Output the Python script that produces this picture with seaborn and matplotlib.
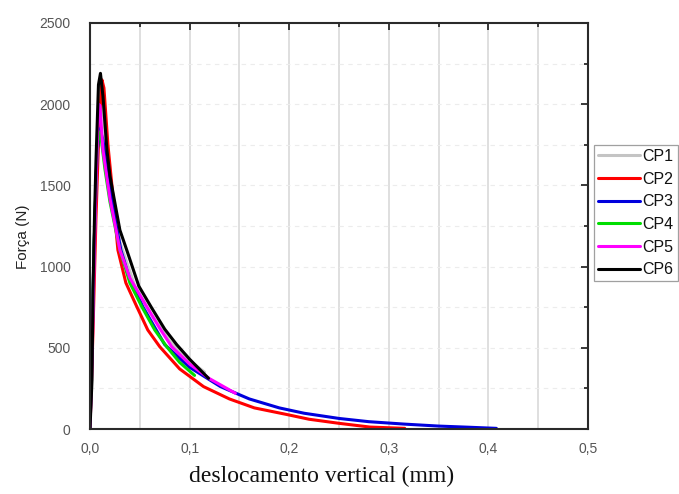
import numpy as np
import pandas as pd
import matplotlib
matplotlib.use("Agg")
import matplotlib.pyplot as plt
from matplotlib.ticker import MultipleLocator, FuncFormatter, NullFormatter
from matplotlib.lines import Line2D
import seaborn as sns

# ---- data ----
cp1_x = [0.0, 0.002, 0.004, 0.007, 0.009, 0.011, 0.014, 0.02, 0.03, 0.045, 0.06, 0.08, 0.10, 0.115]
cp1_y = [0, 500, 1100, 1700, 2000, 2100, 1900, 1500, 1150, 880, 720, 540, 420, 350]

cp2_x = [0.0, 0.003, 0.006, 0.009, 0.012, 0.014, 0.018, 0.022, 0.028, 0.036, 0.047, 0.058, 0.070,
         0.09, 0.114, 0.14, 0.165, 0.197, 0.22, 0.25, 0.281, 0.316]
cp2_y = [0, 600, 1300, 1850, 2150, 2100, 1750, 1500, 1102, 900, 753, 610, 507,
         370, 261, 185, 130, 90, 60, 35, 12, 4]

cp3_x = [0.0, 0.002, 0.004, 0.007, 0.010, 0.013, 0.018, 0.025, 0.031, 0.04, 0.053, 0.075, 0.10,
         0.131, 0.16, 0.19, 0.215, 0.25, 0.28, 0.316, 0.35, 0.38, 0.408]
cp3_y = [0, 500, 1100, 1700, 1850, 1780, 1550, 1300, 1102, 920, 753, 520, 380,
         261, 185, 130, 97, 65, 45, 30, 18, 11, 4]

cp4_x = [0.0, 0.002, 0.004, 0.007, 0.009, 0.011, 0.015, 0.02, 0.03, 0.04, 0.052, 0.065, 0.077,
         0.09, 0.105]
cp4_y = [0, 500, 1100, 1700, 1830, 1800, 1600, 1400, 1102, 900, 753, 610, 507, 410, 330]

cp5_x = [0.0, 0.002, 0.004, 0.006, 0.0087, 0.010, 0.013, 0.02, 0.03, 0.04, 0.057, 0.07, 0.082,
         0.10, 0.12, 0.146]
cp5_y = [0, 400, 1000, 1500, 2000, 1990, 1718, 1420, 1102, 930, 753, 620, 507, 400, 310, 220]

cp6_x = [0.0, 0.002, 0.003, 0.0045, 0.006, 0.0085, 0.0105, 0.013, 0.017, 0.02, 0.03, 0.037,
         0.049, 0.062, 0.075, 0.087, 0.10, 0.119]
cp6_y = [0, 300, 850, 1300, 1650, 2120, 2190, 2050, 1718, 1560, 1225, 1100,
         880, 745, 615, 520, 430, 312]

series = ["CP1", "CP2", "CP3", "CP4", "CP5", "CP6"]
xs = [cp1_x, cp2_x, cp3_x, cp4_x, cp5_x, cp6_x]
ys = [cp1_y, cp2_y, cp3_y, cp4_y, cp5_y, cp6_y]
colors = ["#c4c4c4", "#ff0000", "#0000dd", "#00dd00", "#ff00ff", "#000000"]

rows = []
for name, x, y in zip(series, xs, ys):
    for a, b in zip(x, y):
        rows.append({"serie": name, "x": a, "y": b})
df = pd.DataFrame(rows)

sns.set_theme(style="white")
plt.rcParams["font.family"] = ["Liberation Sans", "DejaVu Sans"]

fig = plt.figure(figsize=(6.79, 4.94), dpi=100)
ax = fig.add_axes([90 / 679, 1 - 429 / 494, (588 - 90) / 679, (429 - 23) / 494])

ax.set_xlim(0, 0.5)
ax.set_ylim(0, 2500)
for gx in np.arange(0.05, 0.5, 0.05):
    ax.axvline(gx, color="#d9d9d9", lw=1.2, zorder=0)
for gy in np.arange(250, 2500, 250):
    ax.axhline(gy, color="#ececec", lw=0.8, ls=(0, (4, 4)), zorder=0)

sns.lineplot(data=df, x="x", y="y", hue="serie", palette=dict(zip(series, colors)),
             hue_order=series, sort=False, estimator=None, units="serie",
             lw=2.2, ax=ax, legend=False)

for s in ax.spines.values():
    s.set_color("#2a2a2a")
    s.set_linewidth(1.5)
ax.xaxis.set_major_locator(MultipleLocator(0.1))
ax.xaxis.set_minor_locator(MultipleLocator(0.05))
ax.yaxis.set_major_locator(MultipleLocator(500))
ax.yaxis.set_minor_locator(MultipleLocator(250))
ax.xaxis.set_major_formatter(FuncFormatter(lambda v, p: f"{v:.1f}".replace(".", ",")))
ax.yaxis.set_major_formatter(FuncFormatter(lambda v, p: f"{int(round(v))}"))
ax.tick_params(which="both", color="#2a2a2a", labelsize=10, labelcolor="#555555")
ax.tick_params(axis="y", which="major", direction="out", length=6, width=1.3, pad=8)
ax.tick_params(axis="y", which="minor", direction="out", length=3.5, width=1.3)
ax.tick_params(axis="x", which="major", direction="inout", length=8, width=1.3, pad=5)
ax.tick_params(axis="x", which="minor", direction="inout", length=5, width=1.3)

# mirrored ticks pointing inwards on top and right
top = ax.secondary_xaxis("top")
top.xaxis.set_major_locator(MultipleLocator(0.1))
top.xaxis.set_minor_locator(MultipleLocator(0.05))
top.xaxis.set_major_formatter(NullFormatter())
top.tick_params(which="major", direction="in", length=5, width=1.3, color="#2a2a2a")
top.tick_params(which="minor", direction="in", length=3, width=1.3, color="#2a2a2a")
top.spines["top"].set_visible(False)
right = ax.secondary_yaxis("right")
right.yaxis.set_major_locator(MultipleLocator(500))
right.yaxis.set_minor_locator(MultipleLocator(250))
right.yaxis.set_major_formatter(NullFormatter())
right.tick_params(which="major", direction="in", length=5, width=1.3, color="#2a2a2a")
right.tick_params(which="minor", direction="in", length=3, width=1.3, color="#2a2a2a")
right.spines["right"].set_visible(False)

ax.set_xlabel("deslocamento vertical (mm)", family=["Liberation Serif", "DejaVu Serif"],
              fontsize=17, color="#111111")
ax.xaxis.set_label_coords((322 - 90) / 498, (429 - 466) / 406)
ax.set_ylabel("Força (N)", fontsize=11, color="#222222")
ax.yaxis.set_label_coords((30 - 90) / 498, (429 - 237) / 406)

handles = [Line2D([0], [0], color=c, lw=2.2) for c in colors]
leg = fig.legend(handles, series, loc="upper left", bbox_to_anchor=(594 / 679, 1 - 145 / 494),
                 frameon=True, fontsize=11.5, handlelength=2.6, handletextpad=0.2,
                 labelspacing=0.48, borderpad=0.25, borderaxespad=0, fancybox=False)
leg.get_frame().set_edgecolor("#888888")
leg.get_frame().set_linewidth(0.9)
for t in leg.get_texts():
    t.set_color("#111111")

fig.savefig("out.png", dpi=100)
